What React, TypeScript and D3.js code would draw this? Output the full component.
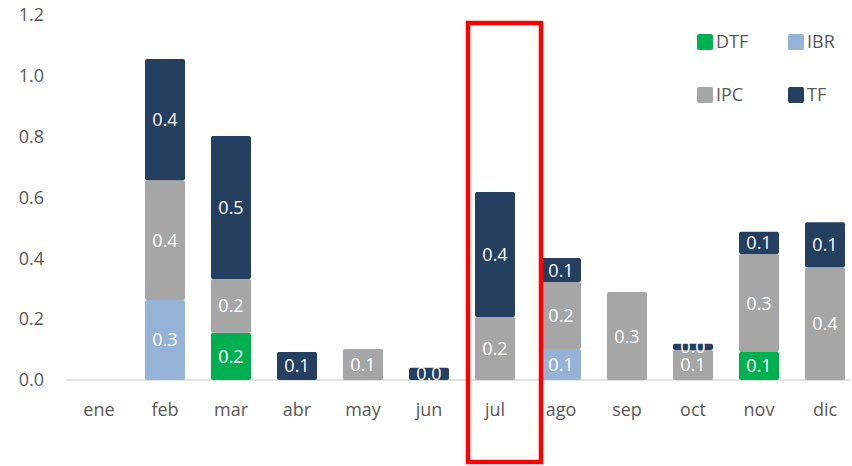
import { useEffect, useRef } from 'react';
import * as d3 from 'd3';

const months = ['ene', 'feb', 'mar', 'abr', 'may', 'jun', 'jul', 'ago', 'sep', 'oct', 'nov', 'dic'];
const dtf = [0, 0, 0.155, 0, 0, 0, 0, 0, 0, 0, 0.092, 0];
const ibr = [0, 0.263, 0, 0, 0, 0, 0, 0.102, 0, 0, 0, 0];
const ipc = [0, 0.394, 0.177, 0, 0.102, 0, 0.207, 0.22, 0.289, 0.099, 0.322, 0.371];
const tf = [0, 0.398, 0.47, 0.092, 0, 0.04, 0.411, 0.079, 0, 0.02, 0.073, 0.148];
const seriesNames = ['DTF', 'IBR', 'IPC', 'TF'];
const seriesColors = ['#00B050', '#95B3D7', '#A6A6A6', '#243F60'];
const yTicks = [0, 0.2, 0.4, 0.6, 0.8, 1.0, 1.2];
const highlight = 'jul';

const W = 852;
const H = 466;
const FONT = '"Open Sans", Lato, sans-serif';

export default function App() {
  const ref = useRef<SVGSVGElement>(null);

  useEffect(() => {
    const svg = d3.select(ref.current);
    svg.selectAll('*').remove();

    const x = d3.scaleBand().domain(months).range([66, 858]).paddingInner(0.394).paddingOuter(0.197);
    const y = d3.scaleLinear().domain([0, 1.2]).range([380, 15]);

    const rows = months.map((m, i) => ({ month: m, DTF: dtf[i], IBR: ibr[i], IPC: ipc[i], TF: tf[i] }));
    const stack = d3.stack<any>().keys(seriesNames)(rows);

    // y tick labels
    svg.append('g')
      .selectAll('text')
      .data(yTicks)
      .join('text')
      .attr('x', 44)
      .attr('y', d => y(d))
      .attr('dy', '0.35em')
      .attr('text-anchor', 'end')
      .attr('font-family', FONT)
      .attr('font-size', 18)
      .attr('fill', '#595959')
      .text(d => d.toFixed(1));

    // baseline
    svg.append('line')
      .attr('x1', 66).attr('x2', 850)
      .attr('y1', y(0)).attr('y2', y(0))
      .attr('stroke', '#D9D9D9').attr('stroke-width', 1.5);

    // bars
    stack.forEach((layer, si) => {
      const g = svg.append('g');
      layer.forEach((seg, i) => {
        const v = seg[1] - seg[0];
        if (v <= 0) return;
        const bx = x(months[i])!;
        const top = y(seg[1]);
        const h = y(seg[0]) - top;
        g.append('rect')
          .attr('x', bx).attr('y', top)
          .attr('width', x.bandwidth()).attr('height', h)
          .attr('rx', 2)
          .attr('fill', seriesColors[si]);
      });
    });

    // labels
    stack.forEach((layer) => {
      layer.forEach((seg, i) => {
        const v = seg[1] - seg[0];
        if (v <= 0) return;
        svg.append('text')
          .attr('x', x(months[i])! + x.bandwidth() / 2)
          .attr('y', (y(seg[0]) + y(seg[1])) / 2)
          .attr('dy', '0.36em')
          .attr('text-anchor', 'middle')
          .attr('font-family', FONT)
          .attr('font-size', 18)
          .attr('fill', '#FFFFFF')
          .text(v.toFixed(1));
      });
    });

    // x labels
    svg.append('g')
      .selectAll('text')
      .data(months)
      .join('text')
      .attr('x', d => x(d)! + x.bandwidth() / 2)
      .attr('y', 410)
      .attr('dy', '0.35em')
      .attr('text-anchor', 'middle')
      .attr('font-family', FONT)
      .attr('font-size', 18)
      .attr('fill', '#595959')
      .text(d => d);

    // highlight box
    const cx = x(highlight)! + x.bandwidth() / 2;
    svg.append('rect')
      .attr('x', cx - 27).attr('y', 23)
      .attr('width', 73).attr('height', 439)
      .attr('fill', 'none')
      .attr('stroke', '#FF0000')
      .attr('stroke-width', 4.5);

    // legend
    const legend = svg.append('g');
    seriesNames.forEach((name, i) => {
      const lx = 697 + (i % 2) * 91;
      const ly = 42 + Math.floor(i / 2) * 53;
      legend.append('rect')
        .attr('x', lx).attr('y', ly - 8)
        .attr('width', 16).attr('height', 16)
        .attr('rx', 2)
        .attr('fill', seriesColors[i]);
      legend.append('text')
        .attr('x', lx + 19).attr('y', ly)
        .attr('dy', '0.35em')
        .attr('font-family', FONT)
        .attr('font-size', 18)
        .attr('fill', '#595959')
        .text(name);
    });
  }, []);

  return <svg ref={ref} width={W} height={H} style={{ position: 'absolute', left: 0, top: 0, background: '#fff' }} />;
}
